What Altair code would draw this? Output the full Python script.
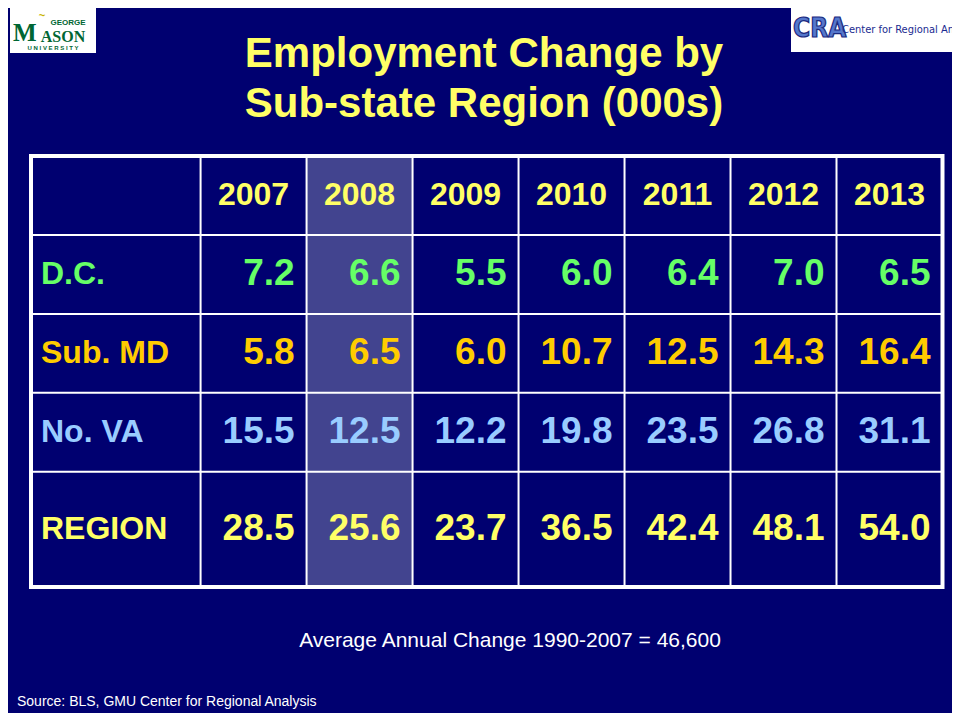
import altair as alt
import pandas as pd

# ---------------- data ----------------
years = [2007, 2008, 2009, 2010, 2011, 2012, 2013]
regions = ["D.C.", "Sub. MD", "No. VA", "REGION"]
dc = [7.2, 6.6, 5.5, 6.0, 6.4, 7.0, 6.5]
sub_md = [5.8, 6.5, 6.0, 10.7, 12.5, 14.3, 16.4]
no_va = [15.5, 12.5, 12.2, 19.8, 23.5, 26.8, 31.1]
region_total = [28.5, 25.6, 23.7, 36.5, 42.4, 48.1, 54.0]
highlight_year = 2008

title_lines = ["Employment Change by", "Sub-state Region (000s)"]
note_text = "Average Annual Change 1990-2007 = 46,600"
source_text = "Source: BLS, GMU Center for Regional Analysis"

# ---------------- style / layout ----------------
W, H = 944, 705
BG = "#000070"
HILITE = "#42448F"
YELLOW = "#FFFF66"
row_colors = ["#66FF66", "#FFCC00", "#99CCFF", "#FFFF66"]
FONT = "Liberation Sans"
COND = "DejaVu Sans Condensed, Liberation Sans"
label_span = 1.6                  # width of the label column in column units
row_spans = [1, 1, 1, 1, 1.46]    # header row + 4 data rows

row_edges = [0.0]
for s in row_spans:
    row_edges.append(row_edges[-1] + s)
ncol = len(years)

xs = alt.Scale(domain=[-label_span, ncol], range=[23, 934.5], zero=False, nice=False)
ys = alt.Scale(domain=[0, row_edges[-1]], range=[148, 579], zero=False, nice=False)

series = [dc, sub_md, no_va, region_total]
cells = []
for r, (name, vals) in enumerate(zip(regions, series)):
    yc = (row_edges[r + 1] + row_edges[r + 2]) / 2
    for c, (yr, v) in enumerate(zip(years, vals)):
        cells.append(dict(region=name, year=yr, label=f"{v:.1f}", xr=c + 1, yc=yc))
cells_df = pd.DataFrame(cells)

labels_df = pd.DataFrame(dict(
    region=regions,
    x=[-label_span] * len(regions),
    yc=[(row_edges[r + 1] + row_edges[r + 2]) / 2 for r in range(len(regions))],
))
header_df = pd.DataFrame(dict(
    year=[str(y) for y in years],
    xc=[i + 0.5 for i in range(ncol)],
    yc=[(row_edges[0] + row_edges[1]) / 2] * ncol,
))
hi = years.index(highlight_year)
hilite_df = pd.DataFrame(dict(x=[hi], x2=[hi + 1], y=[row_edges[0]], y2=[row_edges[-1]]))
vlines_df = pd.DataFrame(dict(x=list(range(ncol)), y=[row_edges[0]] * ncol, y2=[row_edges[-1]] * ncol))
hlines_df = pd.DataFrame(dict(y=row_edges[1:-1], x=[-label_span] * (len(row_edges) - 2),
                              x2=[ncol] * (len(row_edges) - 2)))
frame_df = pd.DataFrame(dict(x=[-label_span], x2=[ncol], y=[row_edges[0]], y2=[row_edges[-1]]))

color_scale = alt.Scale(domain=regions, range=row_colors)

# ---------------- table layers ----------------
hilite = alt.Chart(hilite_df).mark_rect(fill=HILITE).encode(
    x=alt.X("x:Q", scale=xs, axis=None), x2="x2:Q",
    y=alt.Y("y:Q", scale=ys, axis=None), y2="y2:Q")

vlines = alt.Chart(vlines_df).mark_rule(color="white", strokeWidth=2).encode(
    x=alt.X("x:Q", scale=xs, axis=None),
    y=alt.Y("y:Q", scale=ys, axis=None), y2="y2:Q")

hlines = alt.Chart(hlines_df).mark_rule(color="white", strokeWidth=2).encode(
    x=alt.X("x:Q", scale=xs, axis=None), x2="x2:Q",
    y=alt.Y("y:Q", scale=ys, axis=None))

frame = alt.Chart(frame_df).mark_rect(fillOpacity=0, stroke="white", strokeWidth=4).encode(
    x=alt.X("x:Q", scale=xs, axis=None), x2="x2:Q",
    y=alt.Y("y:Q", scale=ys, axis=None), y2="y2:Q")

header = alt.Chart(header_df).mark_text(
    font=FONT, fontWeight="bold", fontSize=32, color=YELLOW, align="center", baseline="middle"
).encode(
    x=alt.X("xc:Q", scale=xs, axis=None),
    y=alt.Y("yc:Q", scale=ys, axis=None),
    text="year:N")

values = alt.Chart(cells_df).mark_text(
    font=FONT, fontWeight="bold", fontSize=37, align="right", baseline="middle", dx=-12
).encode(
    x=alt.X("xr:Q", scale=xs, axis=None),
    y=alt.Y("yc:Q", scale=ys, axis=None),
    text="label:N",
    color=alt.Color("region:N", scale=color_scale, legend=None))

row_labels = alt.Chart(labels_df).mark_text(
    font=FONT, fontWeight="bold", fontSize=32, align="left", baseline="middle", dx=10
).encode(
    x=alt.X("x:Q", scale=xs, axis=None),
    y=alt.Y("yc:Q", scale=ys, axis=None),
    text="region:N",
    color=alt.Color("region:N", scale=color_scale, legend=None))

# ---------------- annotations ----------------
one = pd.DataFrame({"k": [0]})


def label(text, x, y, **kw):
    return alt.Chart(one).mark_text(text=text, **kw).encode(x=alt.value(x), y=alt.value(y))


title1 = label(title_lines[0], 476, 59, font=FONT, fontWeight="bold", fontSize=42,
               color=YELLOW, align="center", baseline="alphabetic")
title2 = label(title_lines[1], 476, 109, font=FONT, fontWeight="bold", fontSize=42,
               color=YELLOW, align="center", baseline="alphabetic")
note = label(note_text, 502, 639, font=FONT, fontSize=21, color="white",
             align="center", baseline="alphabetic")
source = label(source_text, 9, 698, font=FONT, fontSize=14, color="white",
               align="left", baseline="alphabetic")

# George Mason logo
gmu_box = alt.Chart(one).mark_rect(fill="white").encode(
    x=alt.value(2), x2=alt.value(88), y=alt.value(0), y2=alt.value(45))
GREEN = "#006633"
gmu_swoosh = label("~", 34, 11, font=FONT, fontWeight="bold", fontSize=11,
                   color="#C8B400", align="center", baseline="alphabetic")
gmu_george = label("GEORGE", 60, 17, font=FONT, fontWeight="bold", fontSize=8,
                   color=GREEN, align="center", baseline="alphabetic")
gmu_m = label("M", 5, 33, font="Liberation Serif", fontWeight="bold", fontSize=25,
              color=GREEN, align="left", baseline="alphabetic")
gmu_ason = label("ASON", 55, 34, font="Liberation Serif", fontWeight="bold", fontSize=16,
                 color=GREEN, align="center", baseline="alphabetic")
gmu_univ = label("U N I V E R S I T Y", 45, 42, font=FONT, fontWeight="bold", fontSize=6,
                 color=GREEN, align="center", baseline="alphabetic")

# CRA logo
cra_box = alt.Chart(one).mark_rect(fill="white").encode(
    x=alt.value(783), x2=alt.value(W), y=alt.value(0), y2=alt.value(44))
cra_letters = label("CRA", 785, 29, font=COND, fontWeight="bold",
                    fontSize=26, color="#5577CC", stroke="#1A2A80", strokeWidth=1.2,
                    align="left", baseline="alphabetic")
cra_text = label("Center for Regional Analysis", 834, 25, font=COND,
                 fontSize=11, color="#1A2A90", align="left", baseline="alphabetic")

chart = alt.layer(
    hilite, vlines, hlines, frame, header, values, row_labels,
    title1, title2, note, source,
    gmu_box, gmu_swoosh, gmu_george, gmu_m, gmu_ason, gmu_univ,
    cra_box, cra_letters, cra_text,
).properties(
    width=W, height=H, padding=0,
    autosize=alt.AutoSizeParams(type="none"),
    background=BG,
).configure_view(strokeWidth=0)

chart.save("out.html", embed_options={"renderer": "svg", "actions": False})
